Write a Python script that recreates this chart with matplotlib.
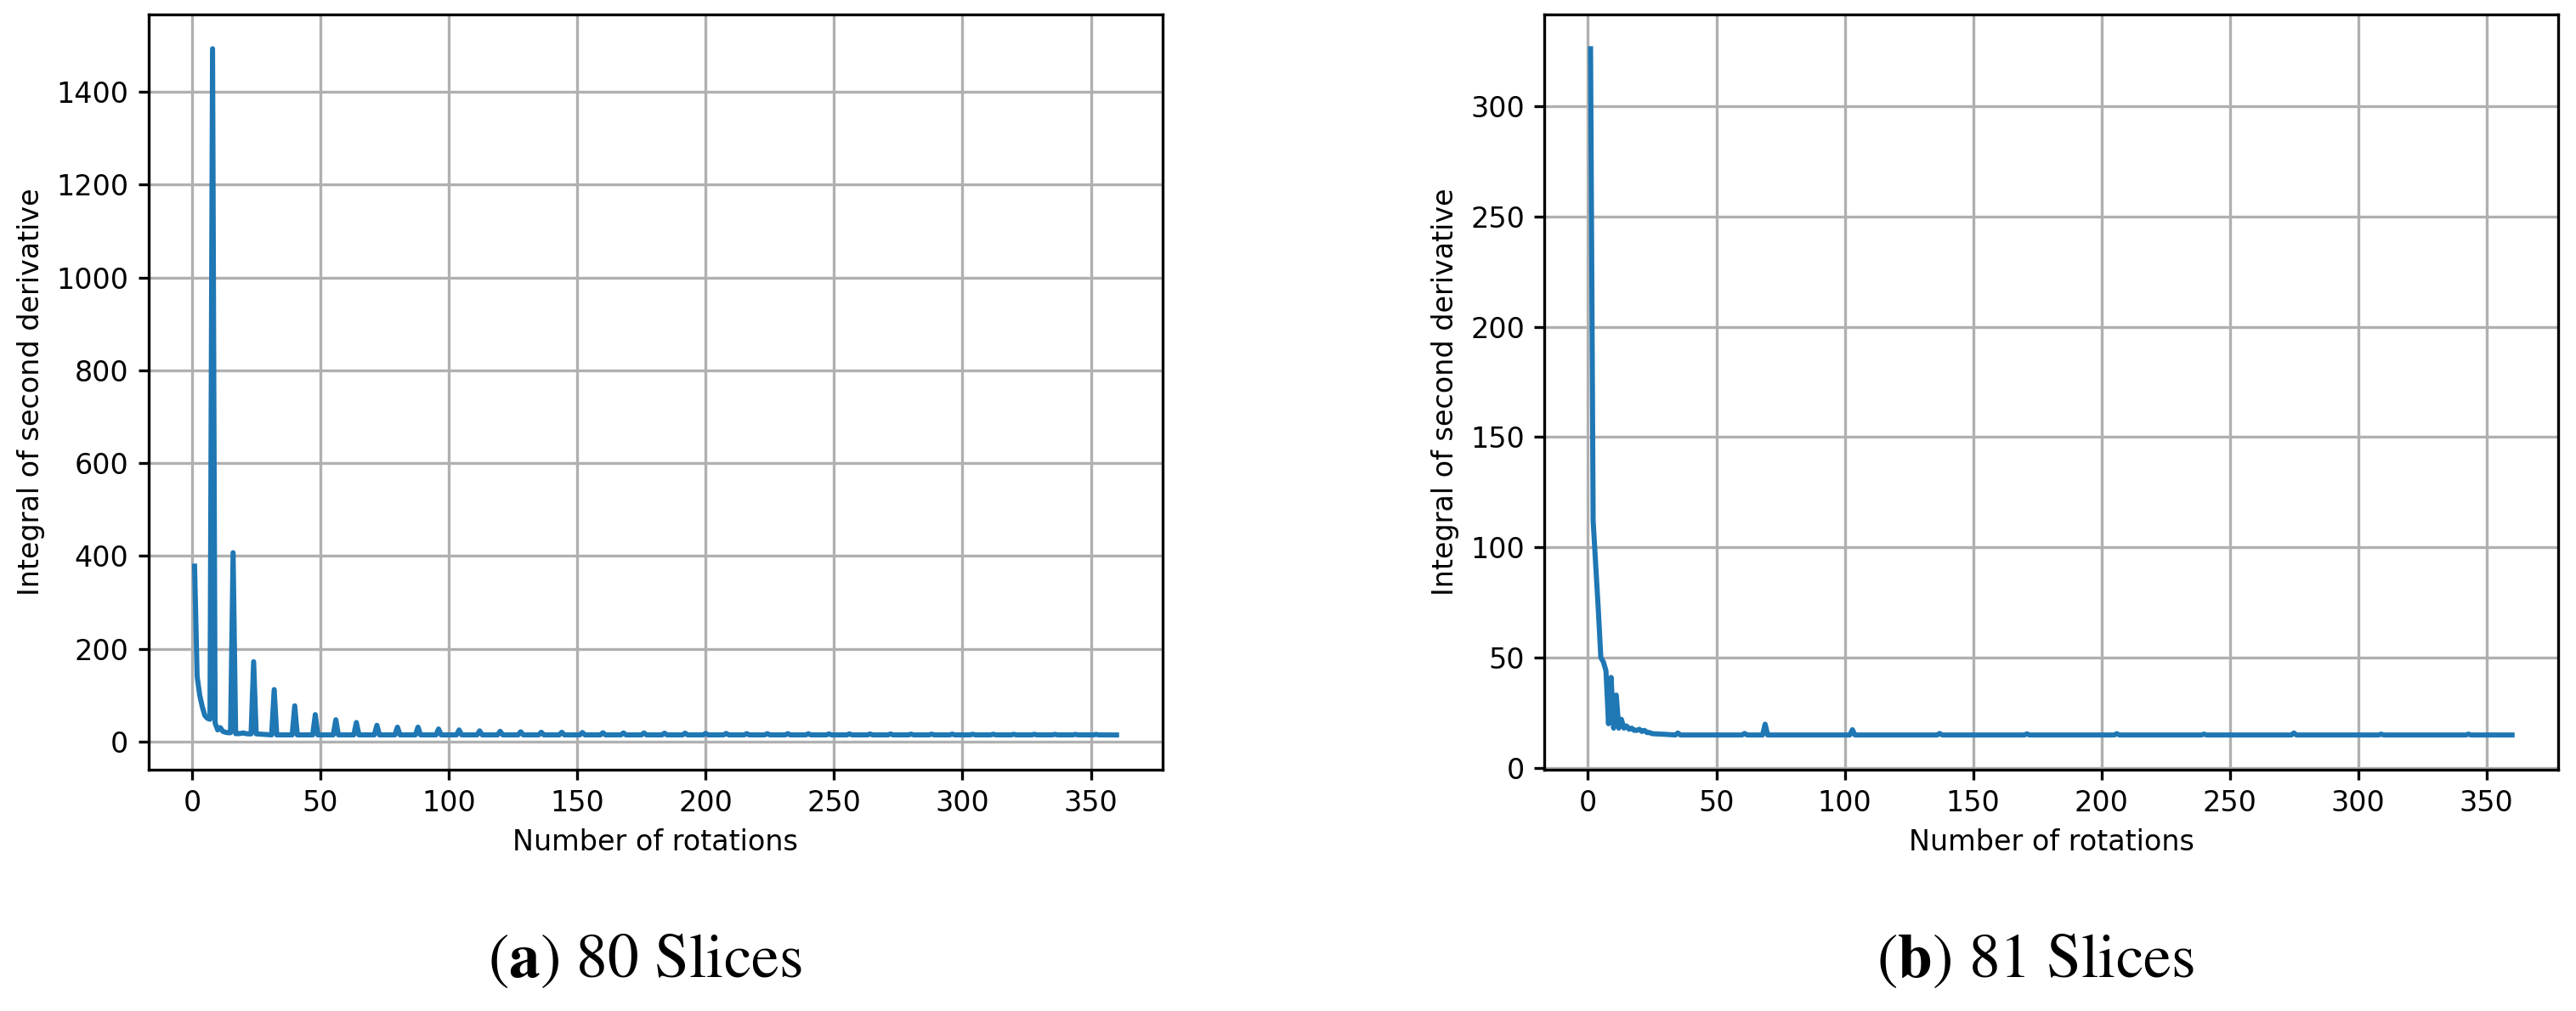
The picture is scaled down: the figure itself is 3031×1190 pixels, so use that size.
import matplotlib
matplotlib.use("Agg")
import matplotlib.pyplot as plt

# ---- data ----
# (a) 80 slices: explicit start, then isolated spikes every 8 rotations
a_start_rot = [1, 2, 3, 4, 5, 6, 7, 8, 9, 10, 11, 12, 13, 14, 15, 16, 17, 18, 19, 20, 21, 22, 23, 24, 25]
a_start_val = [378, 140, 100, 75, 56, 50, 48, 1493, 40, 25, 30, 22, 20, 19, 19, 407, 17, 17, 17.5, 18.5, 17, 16.5, 16.5, 172, 16.5]
a_peak_rot = [32, 40, 48, 56, 64, 72, 80, 88, 96, 104, 112, 120, 128, 136, 144, 152, 160, 168, 176,
              184, 192, 200, 208, 216, 224, 232, 240, 248, 256, 264, 272, 280, 288, 296, 304, 312,
              320, 328, 336, 344, 352]
a_peak_val = [112, 77, 58, 47, 41, 35, 31, 31, 27, 25, 23, 22, 21, 20, 20, 19.5, 19, 18.5, 18.5,
              18, 18, 17.5, 17.5, 17, 17, 17, 16.8, 16.5, 16.5, 16.3, 16.3, 16, 16, 16, 15.8, 15.8,
              15.6, 15.6, 15.5, 15.5, 15.4]
a_base = 14.3
a_end = (360, 14.1)

# (b) 81 slices: explicit start, then a few small bumps on a flat floor
b_start_rot = [1, 2, 3, 4, 5, 6, 7, 8, 9, 10, 11, 12, 13, 14, 15, 16, 17, 18, 19, 20, 21, 22, 23, 24, 25, 30]
b_start_val = [326, 112, 92, 72, 50, 48, 44, 20, 41, 18, 33, 18, 22, 18, 19, 17.5, 18, 17, 17, 17.5, 16.5, 17, 16, 16, 15.5, 15.2]
b_bump_rot = [35, 61, 69, 103, 137, 171, 206, 240, 275, 309, 343]
b_bump_val = [15.8, 15.6, 19.8, 17.3, 15.6, 15.4, 15.5, 15.3, 15.8, 15.3, 15.3]
b_base = 14.9
b_end = (360, 14.9)


def spiky_line(start_x, start_y, px, py, base, end):
    xs, ys = list(start_x), list(start_y)
    for x, y in zip(px, py):
        xs += [x - 1, x, x + 1]
        ys += [base, y, base]
    xs.append(end[0])
    ys.append(end[1])
    return xs, ys


plt.rcParams["axes.linewidth"] = 1.0
plt.rcParams["grid.linewidth"] = 1.0
plt.rcParams["xtick.major.width"] = 1.0
plt.rcParams["ytick.major.width"] = 1.0
plt.rcParams["mathtext.fontset"] = "stix"

W, H, DPI = 3031, 1190, 240
fig = plt.figure(figsize=(W / DPI, H / DPI), dpi=DPI)

ax1 = fig.add_axes([174.7 / W, 1 - 905.5 / H, (1368 - 174.7) / W, (905.5 - 17) / H])
ax2 = fig.add_axes([1817.3 / W, 1 - 905.5 / H, (3010 - 1817.3) / W, (905.5 - 17) / H])

xa, ya = spiky_line(a_start_rot, a_start_val, a_peak_rot, a_peak_val, a_base, a_end)
xb, yb = spiky_line(b_start_rot, b_start_val, b_bump_rot, b_bump_val, b_base, b_end)

for ax, xs, ys in ((ax1, xa, ya), (ax2, xb, yb)):
    ax.plot(xs, ys, color="#1f77b4", linewidth=1.8)
    ax.grid(True)
    ax.set_xticks([0, 50, 100, 150, 200, 250, 300, 350])
    ax.set_xlabel("Number of rotations")
    ax.set_ylabel("Integral of second derivative")

ax1.set_yticks([0, 200, 400, 600, 800, 1000, 1200, 1400])
ax2.set_yticks([0, 50, 100, 150, 200, 250, 300])

cap_kw = dict(ha="center", va="baseline", fontsize=22, family="STIXGeneral")
fig.text(759 / W, 1 - 1150 / H, r"($\mathbf{a}$) 80 Slices", **cap_kw)
fig.text(2395 / W, 1 - 1150 / H, r"($\mathbf{b}$) 81 Slices", **cap_kw)

fig.savefig("out.png", dpi=DPI, facecolor="white")
